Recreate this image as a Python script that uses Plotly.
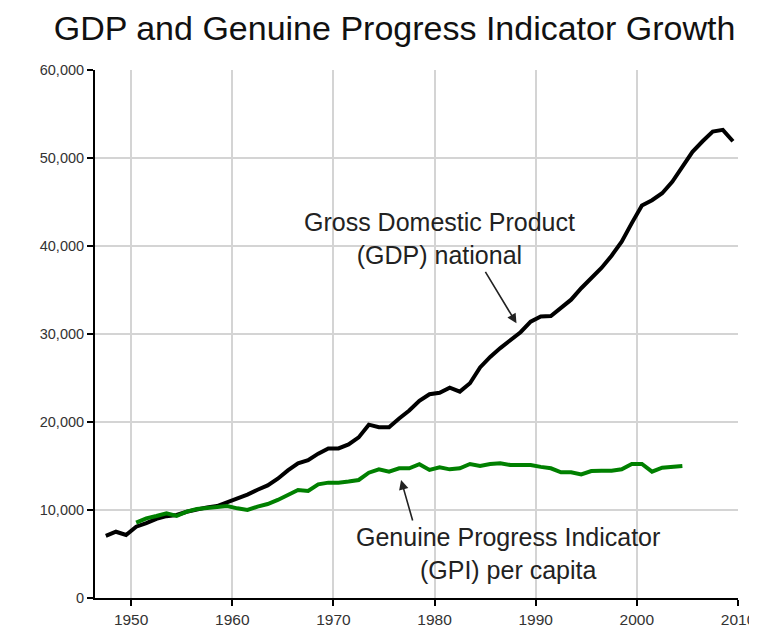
import plotly.graph_objects as go

gdp_years = list(range(1947, 2010))
gdp_values = [
    7050, 7530, 7160, 8100, 8500, 9000, 9300, 9430, 9800, 10100,
    10300, 10450, 10850, 11300, 11750, 12300, 12800, 13550, 14500, 15300,
    15650, 16400, 17000, 17000, 17450, 18250, 19700, 19400, 19400, 20400,
    21300, 22400, 23150, 23330, 23900, 23450, 24400, 26200, 27400, 28400,
    29300, 30200, 31400, 32000, 32050, 33000, 33900, 35200, 36300, 37500,
    38900, 40500, 42600, 44600, 45200, 46000, 47300, 49000, 50700, 51900,
    53000, 53200, 51900,
]

gpi_years = list(range(1950, 2005))
gpi_values = [
    8560, 9050, 9320, 9620, 9320, 9810, 10110, 10250, 10350, 10450,
    10190, 10000, 10380, 10680, 11140, 11700, 12270, 12160, 12920, 13110,
    13110, 13230, 13410, 14240, 14620, 14360, 14740, 14740, 15200, 14550,
    14850, 14620, 14740, 15230, 15000, 15230, 15300, 15110, 15110, 15110,
    14900, 14740, 14280, 14280, 14050, 14430, 14470, 14470, 14620, 15230,
    15230, 14360, 14810, 14850, 15000,
]

x_ticks = [1950, 1960, 1970, 1980, 1990, 2000, 2010]
y_ticks = [0, 10000, 20000, 30000, 40000, 50000, 60000]
y_tick_labels = ["0", "10,000", "20,000", "30,000", "40,000", "50,000", "60,000"]

# annual values plotted at mid-year
mid = 0.5

fig = go.Figure()
fig.add_trace(go.Scatter(
    x=[y + mid for y in gdp_years], y=gdp_values, mode="lines",
    line=dict(color="#000000", width=4), name="GDP", hoverinfo="x+y",
))
fig.add_trace(go.Scatter(
    x=[y + mid for y in gpi_years], y=gpi_values, mode="lines",
    line=dict(color="#008000", width=4), name="GPI", hoverinfo="x+y",
))

font = "Liberation Sans, Arial, sans-serif"

fig.update_layout(
    width=757, height=630,
    margin=dict(l=87, r=27.3, t=62, b=40),
    paper_bgcolor="white", plot_bgcolor="white",
    showlegend=False,
    font=dict(family=font, color="#222222"),
    title=dict(
        text="GDP and Genuine Progress Indicator Growth",
        font=dict(family=font, size=34, color="#111111"),
        x=0.5106, xanchor="center", xref="container",
        y=0.9687, yanchor="middle", yref="container",
    ),
    xaxis=dict(
        range=[1946.43, 2010], tickmode="array", tickvals=x_ticks,
        automargin=False,
        showgrid=True, gridcolor="#d4d4d4", gridwidth=2,
        showline=True, linecolor="#000000", linewidth=2,
        ticks="outside", ticklen=6, tickwidth=2, tickcolor="#000000",
        tickfont=dict(family=font, size=15.5, color="#333333"),
        zeroline=False,
    ),
    yaxis=dict(
        range=[0, 60000], tickmode="array", tickvals=y_ticks, ticktext=y_tick_labels,
        automargin=False,
        showgrid=True, gridcolor="#d4d4d4", gridwidth=2,
        showline=True, linecolor="#000000", linewidth=2,
        ticks="outside", ticklen=6, tickwidth=2, tickcolor="#000000",
        tickfont=dict(family=font, size=14.5, color="#333333"),
        zeroline=False,
    ),
)

fig.add_annotation(
    x=1980.46, y=40800, xref="x", yref="y",
    text="Gross Domestic Product<br>(GDP) national",
    showarrow=False, font=dict(family=font, size=25, color="#222222"),
    align="center",
)
fig.add_annotation(
    x=1987.25, y=5114, xref="x", yref="y",
    text="Genuine Progress Indicator<br>(GPI) per capita",
    showarrow=False, font=dict(family=font, size=25, color="#222222"),
    align="center",
)
fig.add_annotation(
    x=1988.1, y=31212, xref="x", yref="y", text="",
    showarrow=True, ax=-32, ay=-53, axref="pixel", ayref="pixel",
    arrowhead=2, arrowsize=1.2, arrowwidth=1.6, arrowcolor="#222222",
)
fig.add_annotation(
    x=1976.69, y=13409, xref="x", yref="y", text="",
    showarrow=True, ax=12, ay=42, axref="pixel", ayref="pixel",
    arrowhead=2, arrowsize=1.2, arrowwidth=1.6, arrowcolor="#222222",
)

fig.write_html("out.html")
